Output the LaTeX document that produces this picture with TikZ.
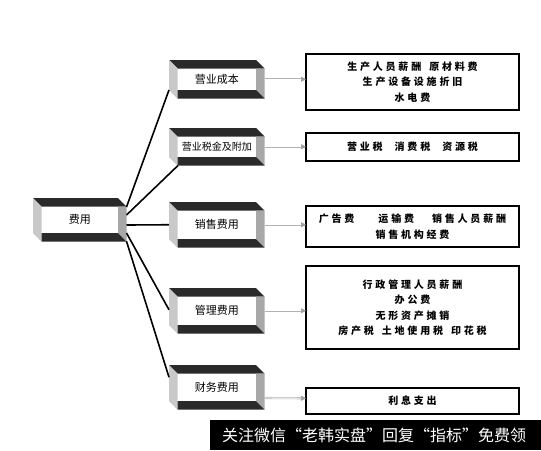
\documentclass[tikz,border=0pt]{standalone}
\usepackage{fontspec}
\usetikzlibrary{arrows.meta,calc}
\newfontfamily\cjk{Noto Sans CJK SC}
\newfontfamily\cjksp{Noto Sans CJK SC}[LetterSpace=28]
\definecolor{bandc}{HTML}{2A2A2A}
\definecolor{leftc}{HTML}{C9C9C9}
\definecolor{rightc}{HTML}{A8A8A8}
\newcommand\tdbox[6]{% name, x0, y0, w, h, text
  \fill[bandc] (#2,#3) -- (#2+#4,#3) -- (#2+#4+8.5,#3+8.5) -- (#2+8.5,#3+8.5) -- cycle;
  \fill[leftc] (#2,#3) -- (#2+8.5,#3+8.5) -- (#2+8.5,#3+#5+8.5) -- (#2,#3+#5) -- cycle;
  \fill[rightc] (#2+#4,#3+8.5) -- (#2+#4+8.5,#3+8.5) -- (#2+#4+8.5,#3+#5+8.5) -- (#2+#4,#3+#5) -- cycle;
  \fill[bandc] (#2+8.5,#3+#5) -- (#2+#4,#3+#5) -- (#2+#4+8.5,#3+#5+8.5) -- (#2+8.5,#3+#5+8.5) -- cycle;
  \node[tdlabel, minimum width=#4+8.5, minimum height=#5+8.5] (#1) at (#2+#4/2+4.25,#3+#5/2+4.25) {#6};
}
\begin{document}
\begin{tikzpicture}[x=1pt,y=-1pt,
  tdlabel/.style={inner sep=0pt, outer sep=0pt, font=\cjk\fontsize{11}{13}\selectfont, text=black},
  rbox/.style={draw=black, line width=2.4pt, inner sep=0pt, outer sep=0pt, minimum width=213, align=center,
     font=\cjksp\bfseries\fontsize{10}{15.5}\selectfont},
  conn/.style={draw=black, line width=1.6pt},
  arr/.style={draw=gray!60, double=white, double distance=0.9pt, line width=0.6pt,
     -{Triangle[length=5pt,width=5pt,color=gray!75,fill=gray!75]}}]
\useasboundingbox[fill=white] (0,0) rectangle (541,450);

\tdbox{fy}{33}{198}{85}{35}{费用}
\tdbox{b1}{169}{60}{87}{30}{营业成本}
\tdbox{b2}{169}{128}{87}{29}{\fontsize{10}{12}\selectfont 营业税金及附加}
\tdbox{b3}{169}{202}{87}{37}{销售费用}
\tdbox{b4}{169}{288}{87}{37}{管理费用}
\tdbox{b5}{169}{365}{87}{36}{财务费用}

\draw[conn] ([yshift=12.75pt]fy.east) -- ([yshift=-10.75pt]b1.west);
\draw[conn] ([yshift=4.75pt]fy.east) -- ([xshift=9pt]b2.south west);
\draw[conn] ([yshift=-5.25pt]fy.east) -- (b3.west);
\draw[conn] ([yshift=-13.25pt]fy.east) -- ([yshift=1pt]b4.west);
\draw[conn] ([yshift=-21.5pt]fy.east) -- ([yshift=10pt]b5.west);

% right boxes
\node[rbox, minimum height=56] (r1) at (412.5,82) {生产人员薪酬\hspace{8pt}原材料费\\生产设备设施折旧\\水电费};
\node[rbox, minimum height=28] (r2) at (412.5,147) {营业税\hspace{12pt}消费税\hspace{12pt}资源税};
\node[rbox, minimum height=41] (r3) at (412.5,226.5) {广告费\hspace{24pt}运输费\hspace{18pt}销售人员薪酬\\销售机构经费};
\node[rbox, minimum height=83] (r4) at (412.5,307.5) {行政管理人员薪酬\\办公费\\无形资产摊销\\房产税\hspace{8pt}土地使用税\hspace{8pt}印花税};
\node[rbox, minimum height=26] (r5) at (412.5,401) {利息支出};

% arrows
\draw[arr] (b1.east) -- (b1.east -| r1.west);
\draw[arr] (b2.east) -- (b2.east -| r2.west);
\draw[arr] (b3.east) -- (b3.east -| r3.west);
\draw[arr] (b4.east) -- (b4.east -| r4.west);
\draw[arr] ([yshift=-10.75pt]b5.east) -- ([yshift=2.75pt]r5.west);

% watermark bar
\fill[black] (210,420) rectangle (541,450);
\node[inner sep=0pt, text=white, font=\cjk\fontsize{16}{16}\selectfont] (wm) at (374,435) {关注微信“老韩实盘”回复“指标”免费领};
\end{tikzpicture}
\end{document}
